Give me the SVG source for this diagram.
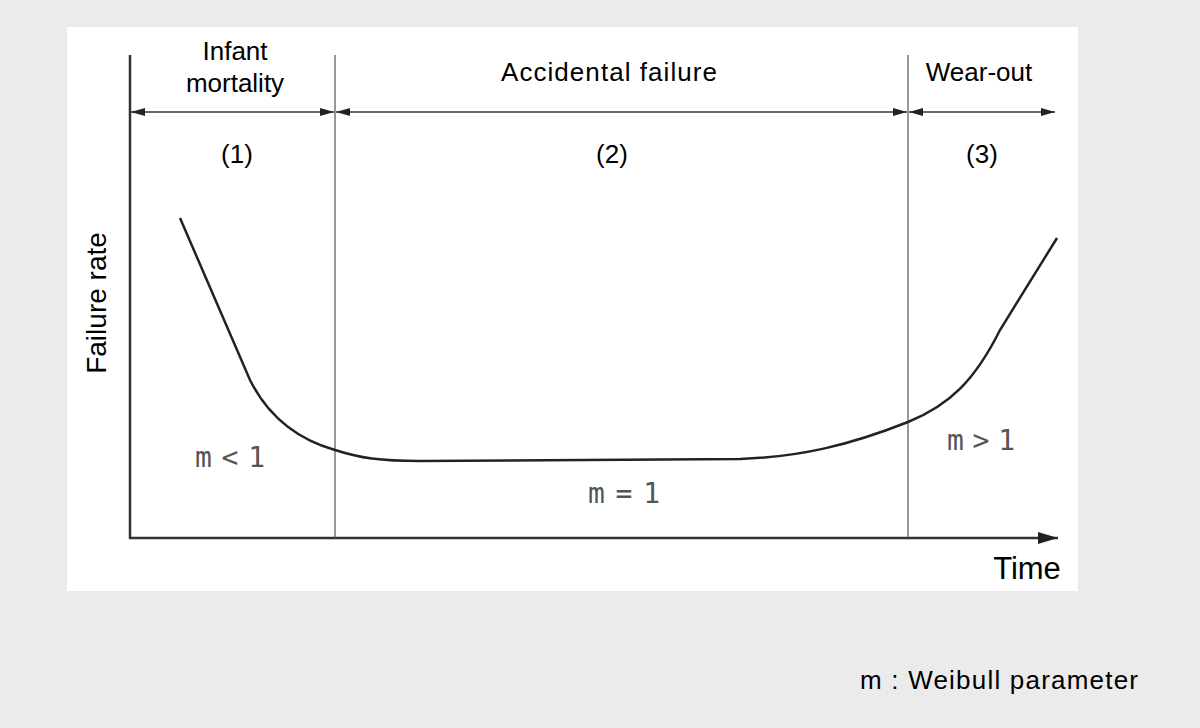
<svg xmlns="http://www.w3.org/2000/svg" width="1200" height="728" viewBox="0 0 1200 728">
<style>
.t{font-family:"Liberation Sans",Arial,sans-serif;fill:#000}
.m{font-family:"DejaVu Sans Mono","Liberation Mono",monospace;fill:#555;font-size:28px}
.ax{stroke:#333;stroke-width:2.5;fill:none}
.thin{stroke:#555;stroke-width:1.2;fill:none}
.dim{stroke:#333;stroke-width:1.5;fill:none}
</style>
<defs>
<marker id="ah" viewBox="0 0 10 10" refX="10" refY="5" markerWidth="14" markerHeight="8" markerUnits="userSpaceOnUse" orient="auto-start-reverse" preserveAspectRatio="none"><path d="M0,0 L10,5 L0,10 Z" fill="#222"/></marker>
<marker id="big" viewBox="0 0 10 10" refX="10" refY="5" markerWidth="20" markerHeight="12" markerUnits="userSpaceOnUse" orient="auto" preserveAspectRatio="none"><path d="M0,0 L10,5 L0,10 Z" fill="#222"/></marker>
</defs>
<rect width="1200" height="728" fill="#ebebeb"/>
<rect x="67" y="27" width="1011" height="564" fill="#fff"/>
<g id="connectors">
<line class="ax" x1="130" y1="55" x2="130" y2="539"/>
<line class="ax" x1="129" y1="538" x2="1058" y2="538" marker-end="url(#big)"/>
<line class="thin" x1="335" y1="55" x2="335" y2="538"/>
<line class="thin" x1="908" y1="55" x2="908" y2="538"/>
<line class="dim" x1="131" y1="112" x2="334" y2="112" marker-start="url(#ah)" marker-end="url(#ah)"/>
<line class="dim" x1="336" y1="112" x2="907" y2="112" marker-start="url(#ah)" marker-end="url(#ah)"/>
<line class="dim" x1="909" y1="112" x2="1055" y2="112" marker-start="url(#ah)" marker-end="url(#ah)"/>
<path d="M180,218 L250,380 C270,420 300,440 335,450 C360,458 380,461 420,461 L740,459 C800,457 850,445 908,422 C950,405 975,380 1000,330 L1057,238" stroke="#222" stroke-width="2.5" fill="none"/>
</g>
<g id="labels">
<text class="t" x="235" y="60" font-size="26" text-anchor="middle">Infant</text>
<text class="t" x="235" y="92" font-size="26" text-anchor="middle">mortality</text>
<text class="t" x="609" y="81" font-size="26" text-anchor="middle" textLength="216">Accidental failure</text>
<text class="t" x="979" y="81" font-size="26" text-anchor="middle">Wear-out</text>
<text class="t" x="237" y="163" font-size="26" text-anchor="middle">(1)</text>
<text class="t" x="612" y="163" font-size="26" text-anchor="middle">(2)</text>
<text class="t" x="982" y="163" font-size="26" text-anchor="middle">(3)</text>
<text class="t" x="0" y="0" font-size="28" text-anchor="middle" transform="translate(106,303) rotate(-90)">Failure rate</text>
<text class="t" x="1027" y="579" font-size="31" text-anchor="middle">Time</text>
<text class="m" x="195" y="467" textLength="70" lengthAdjust="spacing">m&lt;1</text>
<text class="m" x="588" y="503" textLength="72" lengthAdjust="spacing">m=1</text>
<text class="m" x="947" y="450" textLength="68" lengthAdjust="spacing">m&gt;1</text>
<text class="t" x="999" y="689" font-size="26" text-anchor="middle" textLength="278">m : Weibull parameter</text>
</g>
</svg>
